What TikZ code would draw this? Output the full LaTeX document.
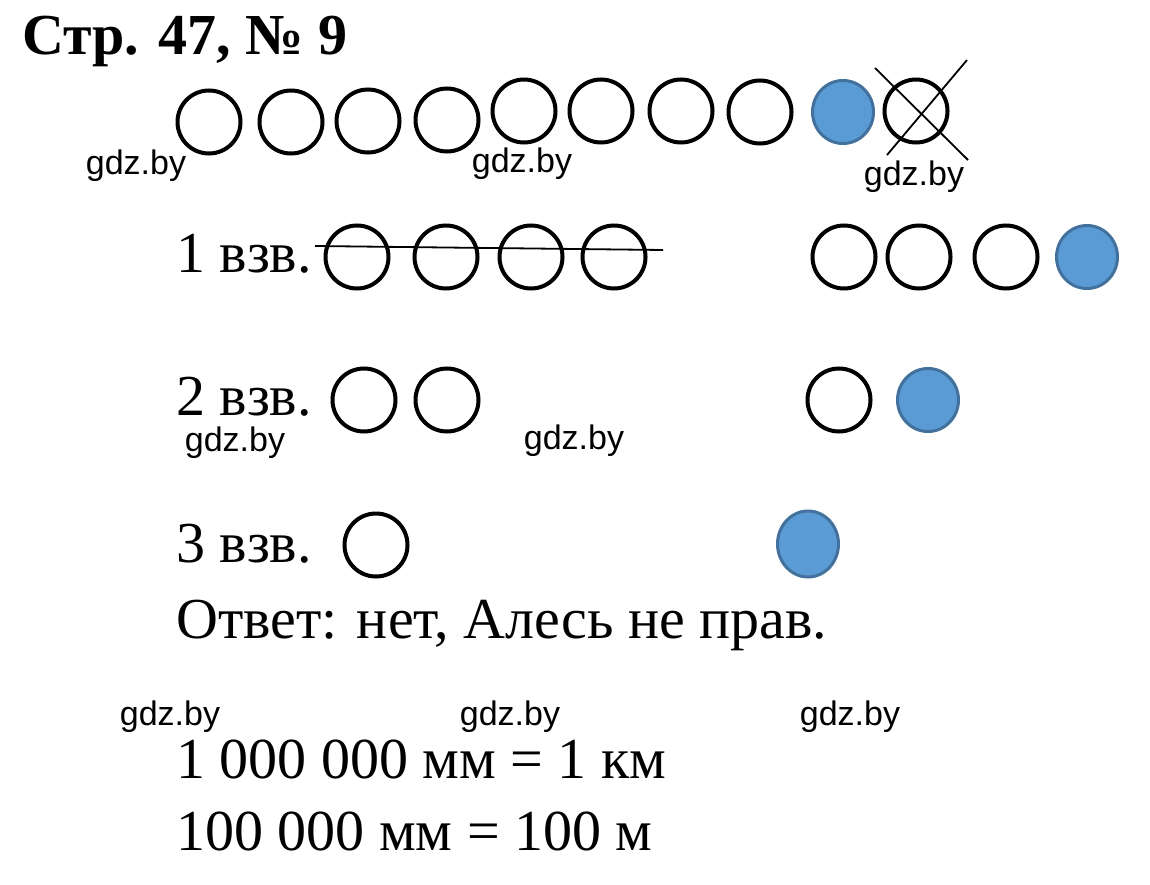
\documentclass[tikz,border=0pt]{standalone}
\usepackage{fontspec}
\setmainfont{Liberation Serif}
\newfontfamily\wmfont{Liberation Sans}
\usetikzlibrary{shapes.geometric}
\definecolor{ballblue}{HTML}{5B9BD5}
\definecolor{balledge}{HTML}{41719C}

\begin{document}
\begin{tikzpicture}[x=1pt,y=-1pt,
    ball/.style={draw,ellipse,line width=4pt,minimum width=63pt,minimum height=63pt,inner sep=0pt},
    blueball/.style={ball,draw=balledge,fill=ballblue,line width=3pt,minimum width=61pt,minimum height=63pt},
    txt/.style={anchor=base west,inner sep=0pt,font=\fontsize{58}{60}\selectfont},
    wm/.style={inner sep=0pt,font=\wmfont\fontsize{34}{35}\selectfont},
    strike/.style={line width=1.8pt}]
    \useasboundingbox (0,0) rectangle (1150,885);
    % Titulo
    \node[txt,font=\bfseries\fontsize{58}{60}\selectfont] (titulo) at (22,55) {Стр. 47, № 9};
    % Linha de cima: 10 moedas
    \node[ball] (m1) at (209,122) {};
    \node[ball] (m2) at (291,122) {};
    \node[ball] (m3) at (368,121) {};
    \node[ball] (m4) at (447,120) {};
    \node[ball] (m5) at (524,111) {};
    \node[ball] (m6) at (601,111) {};
    \node[ball] (m7) at (681,111) {};
    \node[ball] (m8) at (760,112) {};
    \node[blueball] (m9) at (843,112) {};
    \node[ball] (m10) at (916,111) {};
    % Moeda riscada
    \coordinate (xa1) at (875,68);
    \coordinate (xa2) at (968,160);
    \coordinate (xb1) at (967,60);
    \coordinate (xb2) at (887,155);
    \draw[strike] (xa1) -- (xa2);
    \draw[strike] (xb1) -- (xb2);
    % 1 pesagem
    \node[txt] (p1) at (176,272) {1 взв.};
    \node[ball] (a1) at (357,257) {};
    \node[ball] (a2) at (446,257) {};
    \node[ball] (a3) at (531,257) {};
    \node[ball] (a4) at (614,257) {};
    \coordinate (r1) at (315,246);
    \coordinate (r2) at (663,250);
    \draw[strike] (r1) -- (r2);
    \node[ball] (b1) at (844,257) {};
    \node[ball] (b2) at (919,257) {};
    \node[ball] (b3) at (1006,257) {};
    \node[blueball] (b4) at (1087,257) {};
    % 2 pesagem
    \node[txt] (p2) at (176,415) {2 взв.};
    \node[ball] (c1) at (364,400) {};
    \node[ball] (c2) at (447,400) {};
    \node[ball] (d1) at (839,400) {};
    \node[blueball] (d2) at (928,400) {};
    % 3 pesagem
    \node[txt] (p3) at (176,562) {3 взв.};
    \node[ball] (e1) at (376,545) {};
    \node[blueball,minimum height=66pt] (e2) at (808,544) {};
    % Resposta
    \node[txt] (resp) at (176,638) {Ответ: нет, Алесь не прав.};
    \node[txt] (eq1) at (176,778) {1 000 000 мм = 1 км};
    \node[txt] (eq2) at (176,850) {100 000 мм = 100 м};
    % Marcas d'agua
    \node[wm] (w1) at (136,166) {gdz.by};
    \node[wm] (w2) at (522,164) {gdz.by};
    \node[wm] (w3) at (914,177) {gdz.by};
    \node[wm] (w4) at (235,443) {gdz.by};
    \node[wm] (w5) at (574,441) {gdz.by};
    \node[wm] (w6) at (170,717) {gdz.by};
    \node[wm] (w7) at (510,717) {gdz.by};
    \node[wm] (w8) at (850,717) {gdz.by};
\end{tikzpicture}
\end{document}
